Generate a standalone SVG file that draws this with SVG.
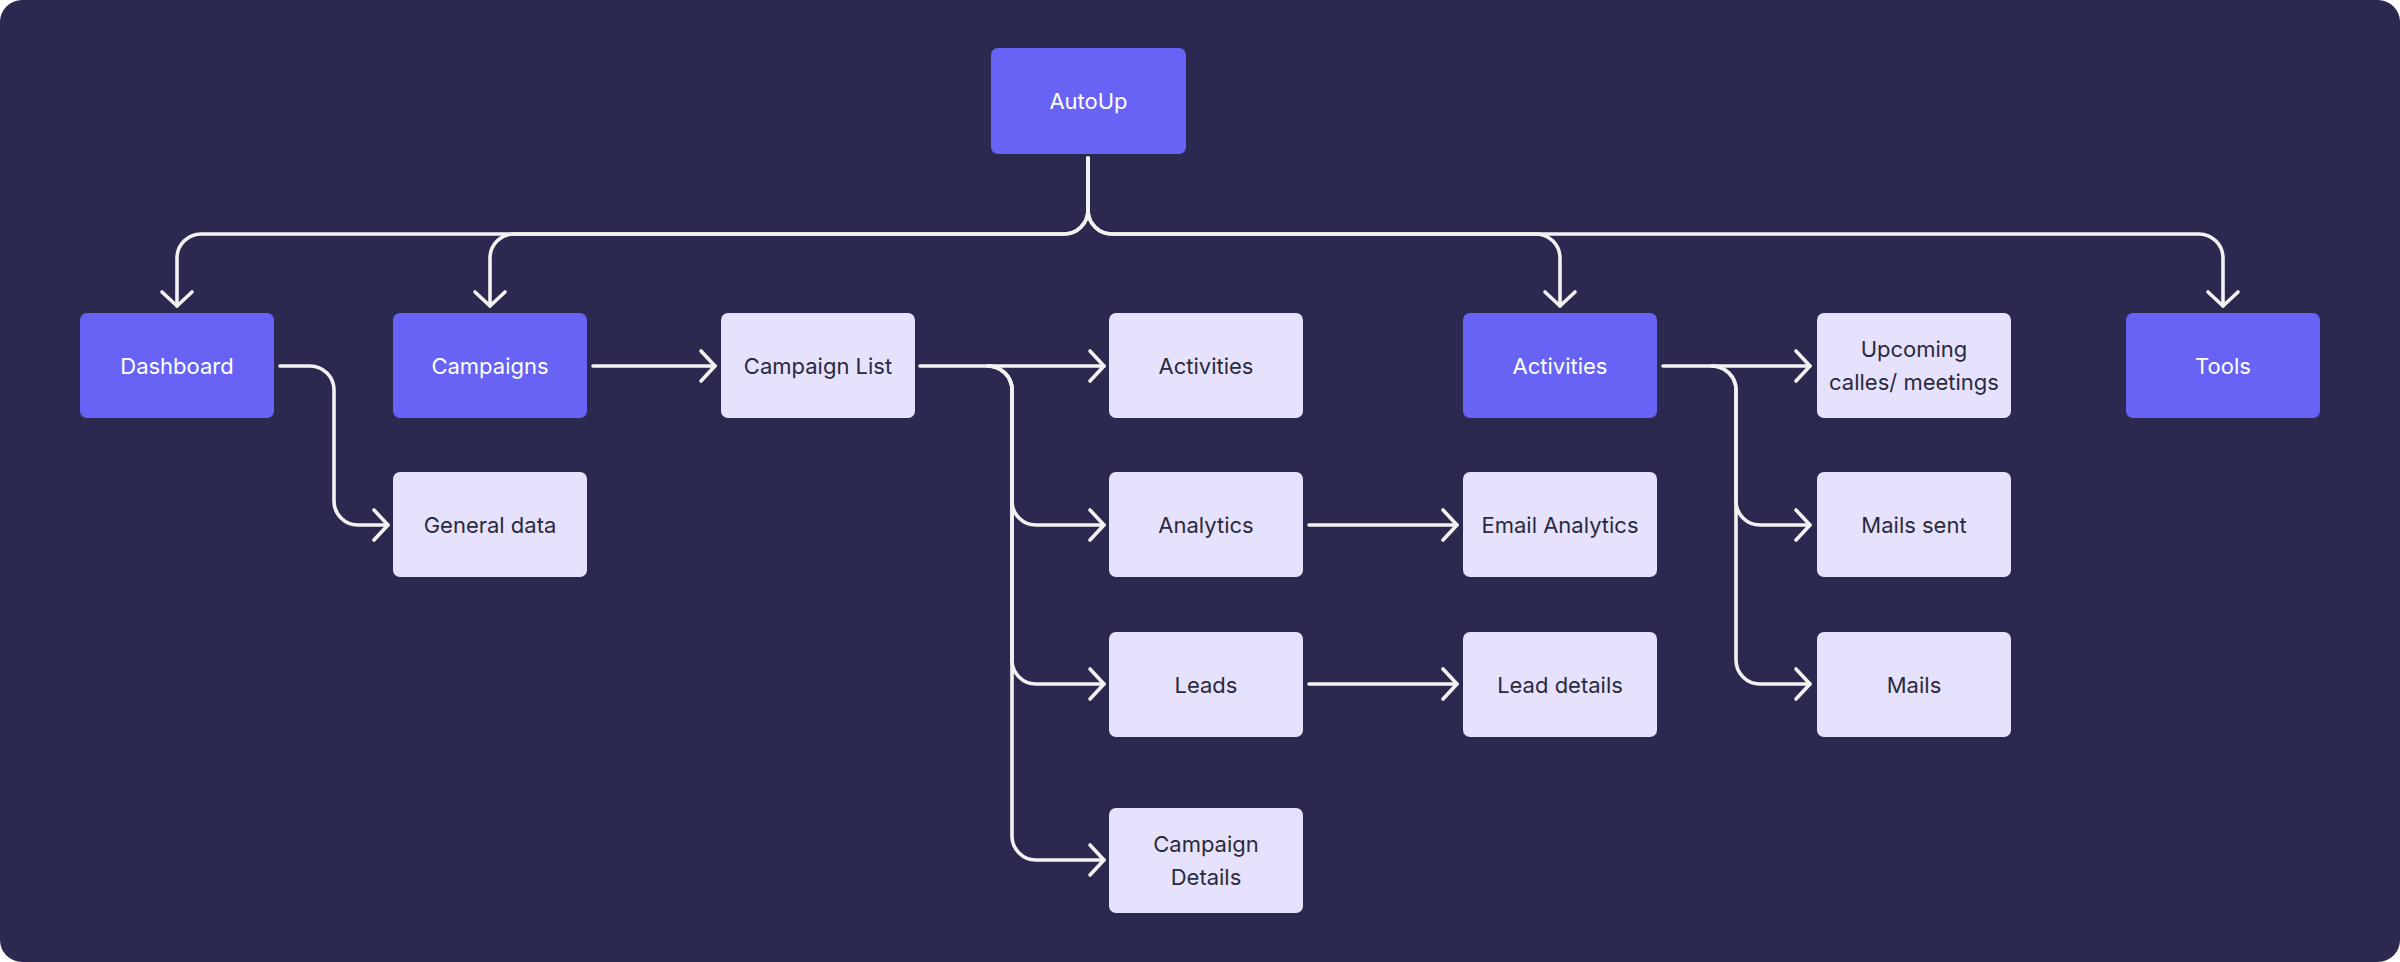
<svg xmlns="http://www.w3.org/2000/svg" width="2400" height="962" viewBox="0 0 2400 962">
<defs>
<style>
.bg{fill:#2B2950}
.p rect{fill:#6863F5}
.l rect{fill:#E6E2FE}
text{font-family:Inter,"Noto Sans","Liberation Sans",sans-serif;font-size:22px;text-anchor:middle;dominant-baseline:central}
.p text{fill:#FFFFFF}
.l text{fill:#2A2A3C}
.c path{fill:none;stroke:#F2F2F2;stroke-width:3.6;stroke-linecap:round;stroke-linejoin:round}
</style>
<marker id="ah" markerUnits="userSpaceOnUse" viewBox="-20 -20 40 40" markerWidth="40" markerHeight="40" refX="0" refY="0" orient="auto">
<path d="M-14,-15 L0,0 L-14,15" fill="none" stroke="#F2F2F2" stroke-width="3.6" stroke-linecap="round" stroke-linejoin="round"/>
</marker>
</defs>
<rect width="2400" height="962" fill="#FFFFFF"/>
<rect class="bg" width="2400" height="962" rx="22"/>

<g class="c">
<path marker-end="url(#ah)" d="M1088,158 V210 A24,24 0 0 1 1064,234 H201 A24,24 0 0 0 177,258 V306"/>
<path marker-end="url(#ah)" d="M1088,158 V210 A24,24 0 0 1 1064,234 H514 A24,24 0 0 0 490,258 V306"/>
<path marker-end="url(#ah)" d="M1088,158 V210 A24,24 0 0 0 1112,234 H1536 A24,24 0 0 1 1560,258 V306"/>
<path marker-end="url(#ah)" d="M1088,158 V210 A24,24 0 0 0 1112,234 H2199 A24,24 0 0 1 2223,258 V306"/>
<path marker-end="url(#ah)" d="M280,366 H310 A24,24 0 0 1 334,390 V501 A24,24 0 0 0 358,525 H388"/>
<path marker-end="url(#ah)" d="M593,366 H715"/>
<path marker-end="url(#ah)" d="M920,366 H1104"/>
<path marker-end="url(#ah)" d="M988,366 A24,24 0 0 1 1012,390 V501 A24,24 0 0 0 1036,525 H1104"/>
<path marker-end="url(#ah)" d="M988,366 A24,24 0 0 1 1012,390 V660 A24,24 0 0 0 1036,684 H1104"/>
<path marker-end="url(#ah)" d="M988,366 A24,24 0 0 1 1012,390 V836 A24,24 0 0 0 1036,860 H1104"/>
<path marker-end="url(#ah)" d="M1309,525 H1457"/>
<path marker-end="url(#ah)" d="M1309,684 H1457"/>
<path marker-end="url(#ah)" d="M1663,366 H1810"/>
<path marker-end="url(#ah)" d="M1712,366 A24,24 0 0 1 1736,390 V501 A24,24 0 0 0 1760,525 H1810"/>
<path marker-end="url(#ah)" d="M1712,366 A24,24 0 0 1 1736,390 V660 A24,24 0 0 0 1760,684 H1810"/>
</g>

<g id="autoup" class="p"><rect x="991" y="48" width="195" height="106" rx="7"/><text x="1088.5" y="101">AutoUp</text></g>
<g id="dashboard" class="p"><rect x="80" y="313" width="194" height="105" rx="7"/><text x="177" y="365.5">Dashboard</text></g>
<g id="campaigns" class="p"><rect x="393" y="313" width="194" height="105" rx="7"/><text x="490" y="365.5">Campaigns</text></g>
<g id="campaign-list" class="l"><rect x="721" y="313" width="194" height="105" rx="7"/><text x="818" y="365.5">Campaign List</text></g>
<g id="activities-list" class="l"><rect x="1109" y="313" width="194" height="105" rx="7"/><text x="1206" y="365.5">Activities</text></g>
<g id="activities" class="p"><rect x="1463" y="313" width="194" height="105" rx="7"/><text x="1560" y="365.5">Activities</text></g>
<g id="upcoming" class="l"><rect x="1817" y="313" width="194" height="105" rx="7"/><text x="1914" y="349">Upcoming</text><text x="1914" y="382">calles/ meetings</text></g>
<g id="tools" class="p"><rect x="2126" y="313" width="194" height="105" rx="7"/><text x="2223" y="365.5">Tools</text></g>
<g id="general-data" class="l"><rect x="393" y="472" width="194" height="105" rx="7"/><text x="490" y="524.5">General data</text></g>
<g id="analytics" class="l"><rect x="1109" y="472" width="194" height="105" rx="7"/><text x="1206" y="524.5">Analytics</text></g>
<g id="email-analytics" class="l"><rect x="1463" y="472" width="194" height="105" rx="7"/><text x="1560" y="524.5">Email Analytics</text></g>
<g id="mails-sent" class="l"><rect x="1817" y="472" width="194" height="105" rx="7"/><text x="1914" y="524.5">Mails sent</text></g>
<g id="leads" class="l"><rect x="1109" y="632" width="194" height="105" rx="7"/><text x="1206" y="684.5">Leads</text></g>
<g id="lead-details" class="l"><rect x="1463" y="632" width="194" height="105" rx="7"/><text x="1560" y="684.5">Lead details</text></g>
<g id="mails" class="l"><rect x="1817" y="632" width="194" height="105" rx="7"/><text x="1914" y="684.5">Mails</text></g>
<g id="campaign-details" class="l"><rect x="1109" y="808" width="194" height="105" rx="7"/><text x="1206" y="844">Campaign</text><text x="1206" y="877">Details</text></g>
</svg>
